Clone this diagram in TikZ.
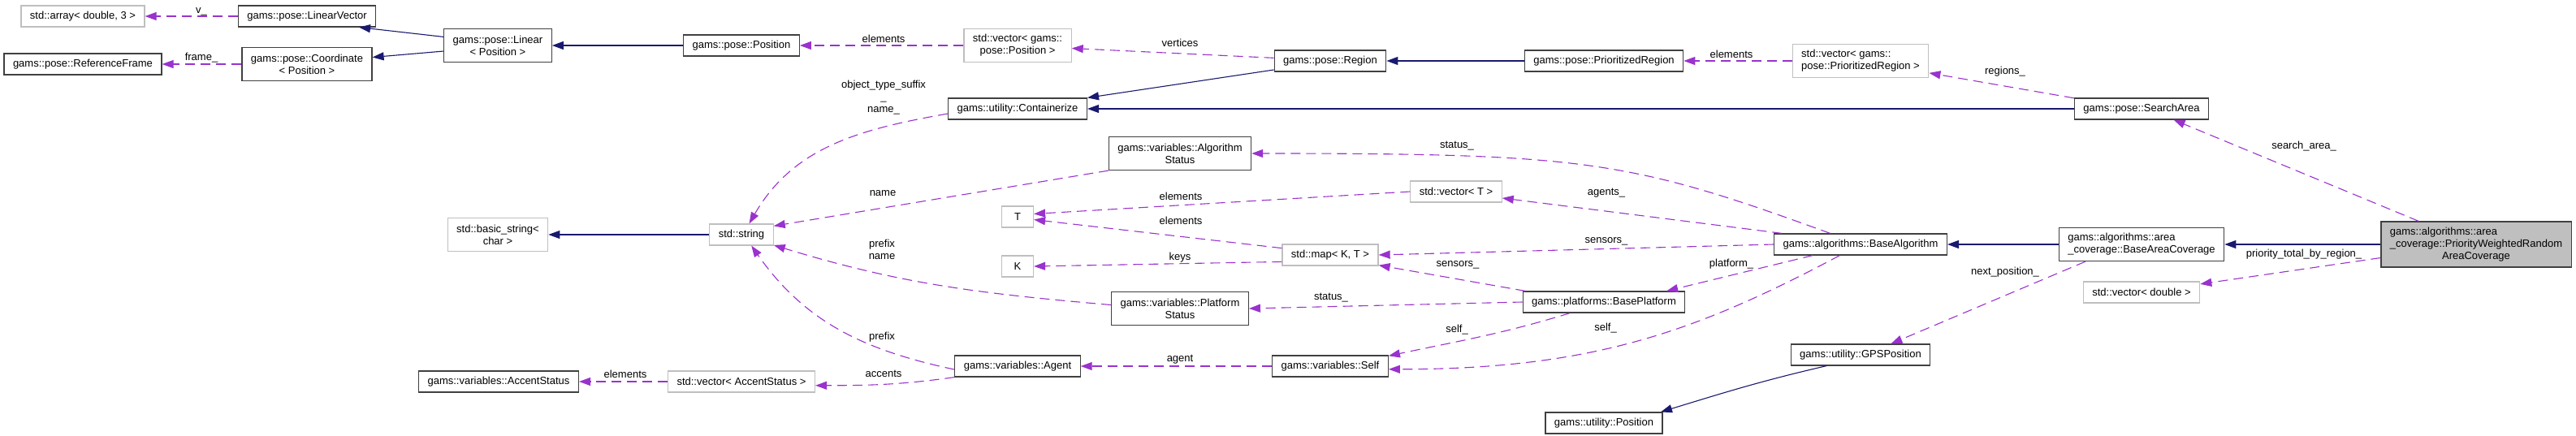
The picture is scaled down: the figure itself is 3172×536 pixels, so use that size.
\documentclass[tikz,border=0pt]{standalone}
\usepackage{fontspec}
\setmainfont{Liberation Sans}
\usetikzlibrary{arrows.meta}
\definecolor{docclr}{RGB}{64,64,64}
\definecolor{extclr}{RGB}{191,191,191}
\definecolor{mainfill}{RGB}{191,191,191}
\definecolor{inhclr}{RGB}{25,25,112}
\definecolor{useclr}{RGB}{154,50,205}
\tikzset{
    box/.style={rectangle,draw=docclr,line width=1.2pt,fill=white,minimum height=26pt,minimum width=39pt,inner xsep=11pt,inner ysep=2pt,align=center,font=\fontsize{13}{15}\selectfont},
    ext/.style={box,draw=extclr},
    tall/.style={minimum height=41pt},
    mainbox/.style={box,fill=mainfill,minimum height=56pt},
    inh/.style={draw=inhclr,line width=1.1pt,-{Triangle[length=14pt,width=10pt]}},
    usage/.style={draw=useclr,line width=1.1pt,dash pattern=on 12pt off 7pt,-{Triangle[length=14pt,width=10pt]}},
    lbl/.style={font=\fontsize{13}{15}\selectfont,inner sep=1pt,align=center},
}
\begin{document}
\begin{tikzpicture}[x=1pt,y=1pt]
\useasboundingbox (0,0) rectangle (3172,-536);
% classes
\node[ext]  (arr)      at (102,-20)   {std::array< double, 3 >};
\node[box]  (linvec)   at (378,-20)   {gams::pose::LinearVector};
\node[box]  (reframe)  at (102,-79)   {gams::pose::ReferenceFrame};
\node[box,tall] (coord) at (378,-79)  {gams::pose::Coordinate\\< Position >};
\node[box,tall] (linear) at (613,-56) {gams::pose::Linear\\< Position >};
\node[box]  (position) at (913,-56)   {gams::pose::Position};
\node[ext,tall] (vecpos) at (1253,-56) {std::vector< gams::\\pose::Position >};
\node[box]  (contain)  at (1253,-134) {gams::utility::Containerize};
\node[box]  (region)   at (1638,-75)  {gams::pose::Region};
\node[box]  (prireg)   at (1975,-75)  {gams::pose::PrioritizedRegion};
\node[ext,tall,align=left] (vecprireg) at (2291,-75) {std::vector< gams::\\pose::PrioritizedRegion >};
\node[box]  (search)   at (2637,-134) {gams::pose::SearchArea};
\node[ext,tall] (basestr) at (613,-289) {std::basic\_string<\\char >};
\node[ext]  (stdstr)   at (913,-289)  {std::string};
\node[box,tall] (algstat) at (1453,-189) {gams::variables::Algorithm\\Status};
\node[ext]  (tnode)    at (1253,-267) {T};
\node[ext]  (knode)    at (1253,-328) {K};
\node[ext]  (vect)     at (1793,-236) {std::vector< T >};
\node[ext]  (mapkt)    at (1638,-314) {std::map< K, T >};
\node[box,tall] (platstat) at (1453,-380) {gams::variables::Platform\\Status};
\node[box]  (baseplat) at (1975,-372) {gams::platforms::BasePlatform};
\node[box]  (basealg)  at (2291,-301) {gams::algorithms::BaseAlgorithm};
\node[box,tall,align=left] (baseac) at (2637,-301) {gams::algorithms::area\\\_coverage::BaseAreaCoverage};
\node[mainbox] (pwrac) at (3049,-301) {\begin{tabular}{@{}l@{}}gams::algorithms::area\\\_coverage::PriorityWeightedRandom\\\multicolumn{1}{@{}c@{}}{AreaCoverage}\end{tabular}};
\node[ext]  (vecdbl)   at (2637,-360) {std::vector< double >};
\node[box]  (accstat)  at (614,-470)  {gams::variables::AccentStatus};
\node[ext]  (vecacc)   at (913,-470)  {std::vector< AccentStatus >};
\node[box]  (agent)    at (1253,-451) {gams::variables::Agent};
\node[box]  (self)     at (1638,-451) {gams::variables::Self};
\node[box]  (gpspos)   at (2291,-437) {gams::utility::GPSPosition};
\node[box]  (utilpos)  at (1975,-521) {gams::utility::Position};
% inheritance
\draw[inh] (linear.171) -- (linvec.-12);
\draw[inh] (linear.-174) -- (coord.6);
\draw[inh] (position.west) -- (linear.east);
\draw[inh] (region.-171) -- (contain.north east);
\draw[inh] (prireg.west) -- (region.east);
\draw[inh] (search.west) -- (contain.east);
\draw[inh] (stdstr.west) -- (basestr.east);
\draw[inh] (baseac.west) -- (basealg.east);
\draw[inh] (pwrac.west) -- (baseac.east);
\draw[inh] (gpspos.-162) to[out=193,in=17] (utilpos.11);
% members
\draw[usage] (linvec.west) -- (arr.east);
\draw[usage] (coord.west) -- (reframe.east);
\draw[usage] (vecpos.west) -- (position.east);
\draw[usage] (region.177) -- (vecpos.-3);
\draw[usage] (vecprireg.west) -- (prireg.east);
\draw[usage] (search.171) -- (vecprireg.-10);
\draw[usage] (pwrac.158) -- (search.-19);
\draw[usage] (pwrac.-172) -- (vecdbl.8);
\draw[usage] (baseac.-163) -- (gpspos.20);
\draw[usage] (contain.-176) to[out=190,in=60] (stdstr.55);
\draw[usage] (algstat.south west) -- (stdstr.15);
\draw[usage] (platstat.177) to[out=175,in=-17] (stdstr.-18);
\draw[usage] (agent.-177) to[out=168,in=-55] (stdstr.-48);
\draw[usage] (agent.south west) to[out=188,in=0] (vecacc.-3);
\draw[usage] (vecacc.west) -- (accstat.east);
\draw[usage] (basealg.160) .. controls +(160:263) and +(411,0) .. (algstat.east);
\draw[usage] (basealg.172) -- (vect.-8);
\draw[usage] (vect.west) -- (tnode.10);
\draw[usage] (mapkt.172) -- (tnode.-10);
\draw[usage] (mapkt.-172) -- (knode.east);
\draw[usage] (basealg.west) -- (mapkt.east);
\draw[usage] (baseplat.172) -- (mapkt.-12);
\draw[usage] (basealg.-167) -- (baseplat.10);
\draw[usage] (baseplat.west) -- (platstat.east);
\draw[usage] (baseplat.-162) to[out=197,in=12] (self.10);
\draw[usage] (basealg.-152) .. controls +(208:200) and +(250,0) .. (self.-3);
\draw[usage] (self.west) -- (agent.east);
% member names
\node[lbl] (lv)      at (248,-14)   {v\_};
\node[lbl] (lframe)  at (248,-71)   {frame\_};
\node[lbl] (lelpos)  at (1088,-48)  {elements};
\node[lbl] (lobj)    at (1088,-120) {object\_type\_suffix\\\_\\name\_};
\node[lbl] (lname)   at (1087,-238) {name};
\node[lbl] (lprenam) at (1086,-307) {prefix\\name};
\node[lbl] (lprefix) at (1086,-415) {prefix};
\node[lbl] (laccent) at (1088,-460) {accents};
\node[lbl] (lelacc)  at (770,-461)  {elements};
\node[lbl] (lvert)   at (1453,-53)  {vertices};
\node[lbl] (lelvt)   at (1454,-242) {elements};
\node[lbl] (lelmap)  at (1454,-272) {elements};
\node[lbl] (lkeys)   at (1453,-317) {keys};
\node[lbl] (lagent)  at (1453,-443) {agent};
\node[lbl] (lstalg)  at (1794,-180) {status\_};
\node[lbl] (lagents) at (1978,-238) {agents\_};
\node[lbl] (lsensa)  at (1978,-297) {sensors\_};
\node[lbl] (lsensp)  at (1795,-326) {sensors\_};
\node[lbl] (lstplat) at (1639,-367) {status\_};
\node[lbl] (lselfp)  at (1794,-406) {self\_};
\node[lbl] (lselfa)  at (1977,-404) {self\_};
\node[lbl] (lelreg)  at (2132,-67)  {elements};
\node[lbl] (lregion) at (2469,-88)  {regions\_};
\node[lbl] (lplat)   at (2132,-325) {platform\_};
\node[lbl] (lnext)   at (2469,-335) {next\_position\_};
\node[lbl] (lsearch) at (2837,-180) {search\_area\_};
\node[lbl] (lprio)   at (2837,-313) {priority\_total\_by\_region\_};
\end{tikzpicture}
\end{document}
